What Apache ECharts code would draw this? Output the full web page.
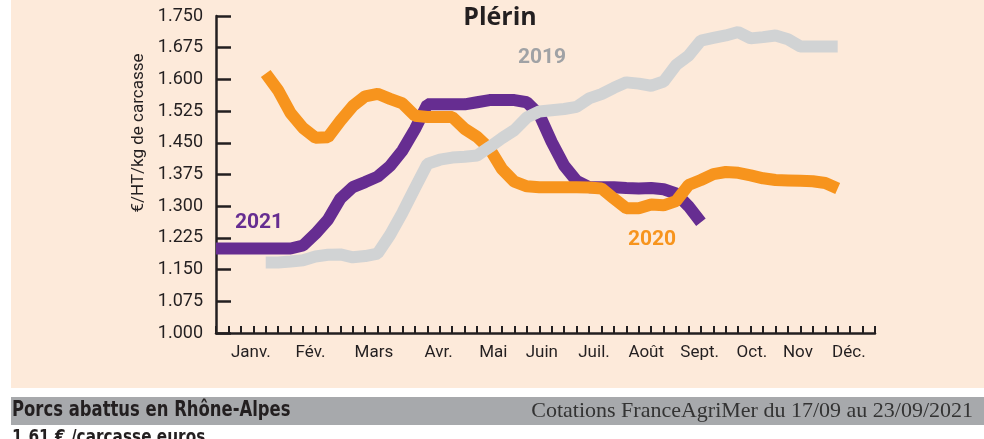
<!DOCTYPE html>
<html lang="fr">
<head>
<meta charset="UTF-8" />
<title>Plérin</title>
<script src="https://cdn.jsdelivr.net/npm/echarts@6.0.0/dist/echarts.min.js"></script>
<style>
  html, body { margin: 0; padding: 0; background: #ffffff; }
  #chart { width: 984px; height: 439px; }
</style>
</head>
<body>
<div id="chart"></div>
<script>
// axe des x en semaines (0 = coin des axes)
var weekTicks = [];
for (var w = 0; w <= 53; w++) weekTicks.push(w);
var monthNames = ["Janv.", "Fév.", "Mars", "Avr.", "Mai", "Juin", "Juil.", "Août", "Sept.", "Oct.", "Nov", "Déc."];
var monthPos = [2.8, 7.6, 12.7, 17.9, 22.3, 26.2, 30.4, 34.6, 38.9, 43.1, 46.8, 50.9];
var yTicks = [1.000, 1.075, 1.150, 1.225, 1.300, 1.375, 1.450, 1.525, 1.600, 1.675, 1.750];

// cotations hebdomadaires, première semaine + valeurs
var start2019 = 4;
var values2019 = [1.167, 1.167, 1.169, 1.172, 1.181, 1.185, 1.186, 1.179, 1.182, 1.188,
  1.232, 1.285, 1.343, 1.400, 1.410, 1.415, 1.417, 1.420, 1.440, 1.461,
  1.480, 1.510, 1.524, 1.527, 1.530, 1.535, 1.555, 1.565, 1.580, 1.593,
  1.590, 1.585, 1.595, 1.634, 1.656, 1.692, 1.698, 1.704, 1.712, 1.697,
  1.700, 1.704, 1.695, 1.678, 1.678, 1.678, 1.678];
var start2020 = 4;
var values2020 = [1.614, 1.574, 1.520, 1.485, 1.462, 1.463, 1.502, 1.537, 1.560, 1.566,
  1.554, 1.543, 1.514, 1.511, 1.511, 1.511, 1.483, 1.464, 1.436, 1.388,
  1.358, 1.347, 1.345, 1.345, 1.345, 1.345, 1.344, 1.342, 1.318, 1.295,
  1.295, 1.304, 1.302, 1.312, 1.350, 1.362, 1.376, 1.381, 1.379, 1.373,
  1.366, 1.362, 1.361, 1.360, 1.359, 1.355, 1.342];
var start2021 = 0;
var values2021 = [1.200, 1.200, 1.200, 1.200, 1.200, 1.200, 1.200, 1.207, 1.235, 1.268,
  1.318, 1.345, 1.357, 1.370, 1.395, 1.432, 1.482, 1.541, 1.541, 1.541,
  1.541, 1.546, 1.551, 1.551, 1.551, 1.546, 1.517, 1.452, 1.396, 1.360,
  1.345, 1.345, 1.345, 1.343, 1.342, 1.343, 1.340, 1.330, 1.300, 1.262];

function toPoints(start, vals) {
  return vals.map(function (v, i) { return [start + i, v]; });
}

var ink = "#231f20";
var narrow = "'Liberation Sans Narrow', 'DejaVu Sans Condensed', sans-serif";
var chart = echarts.init(document.getElementById("chart"));

var option = {
  animation: false,
  grid: { left: 216, right: 109, top: 16, bottom: 106 },
  xAxis: {
    type: "value",
    min: 0,
    max: 53,
    axisLine: { lineStyle: { color: ink, width: 2.5 } },
    axisTick: { customValues: weekTicks, inside: true, length: 7, lineStyle: { color: ink, width: 2 } },
    axisLabel: {
      customValues: monthPos,
      formatter: function (v) { return monthNames[monthPos.indexOf(v)]; },
      margin: 11,
      fontFamily: "Roboto",
      fontSize: 17,
      color: ink
    },
    splitLine: { show: false }
  },
  yAxis: {
    type: "value",
    min: 1,
    max: 1.75,
    axisLine: { show: true, lineStyle: { color: ink, width: 2.5 } },
    axisTick: { customValues: yTicks, inside: true, length: 15, lineStyle: { color: ink, width: 2.5 } },
    axisLabel: {
      customValues: yTicks,
      formatter: function (v) { return v.toFixed(3); },
      margin: 13,
      fontFamily: "Roboto",
      fontSize: 18,
      color: ink
    },
    splitLine: { show: false }
  },
  series: [
    {
      name: "2021", type: "line", data: toPoints(start2021, values2021),
      showSymbol: false, lineStyle: { color: "#662d91", width: 12 }, z: 2
    },
    {
      name: "2020", type: "line", data: toPoints(start2020, values2020),
      showSymbol: false, lineStyle: { color: "#f7941d", width: 12 }, z: 3
    },
    {
      name: "2019", type: "line", data: toPoints(start2019, values2019),
      showSymbol: false, lineStyle: { color: "#d1d3d4", width: 12 }, z: 4
    }
  ],
  graphic: [
    { type: "rect", z: -10, silent: true, shape: { x: 11, y: 0, width: 973, height: 388 }, style: { fill: "#fdeada" } },
    { type: "rect", z: -10, silent: true, shape: { x: 11, y: 397, width: 973, height: 28 }, style: { fill: "#a7a9ac" } },
    { type: "text", x: 500, y: 18, style: { text: "Plérin", font: "bold 25px 'Open Sans'", fill: ink, textAlign: "center", textVerticalAlign: "middle" } },
    { type: "text", x: 139, y: 133, rotation: Math.PI / 2, style: { text: "€/HT/kg de carcasse", font: "17px Roboto", fill: ink, textAlign: "center", textVerticalAlign: "middle" } },
    { type: "text", x: 259, y: 223, style: { text: "2021", font: "bold 21px Roboto", fill: "#662d91", textAlign: "center", textVerticalAlign: "middle" } },
    { type: "text", x: 542, y: 58, style: { text: "2019", font: "bold 21px Roboto", fill: "#a0a2a5", textAlign: "center", textVerticalAlign: "middle" } },
    { type: "text", x: 652, y: 240, style: { text: "2020", font: "bold 21px Roboto", fill: "#f7941d", textAlign: "center", textVerticalAlign: "middle" } },
    { type: "text", x: 12, y: 411, scaleX: 0.87, style: { text: "Porcs abattus en Rhône-Alpes", font: "bold 21px " + narrow, fill: ink, textVerticalAlign: "middle" } },
    { type: "text", x: 973, y: 411, style: { text: "Cotations FranceAgriMer du 17/09 au 23/09/2021", font: "22px 'Liberation Serif', serif", fill: "#333333", textAlign: "right", textVerticalAlign: "middle" } },
    { type: "text", x: 12, y: 428, scaleX: 0.85, style: { text: "1,61 € /carcasse euros", font: "bold 20px " + narrow, fill: ink, textVerticalAlign: "top" } }
  ]
};
chart.setOption(option);
</script>
</body>
</html>
